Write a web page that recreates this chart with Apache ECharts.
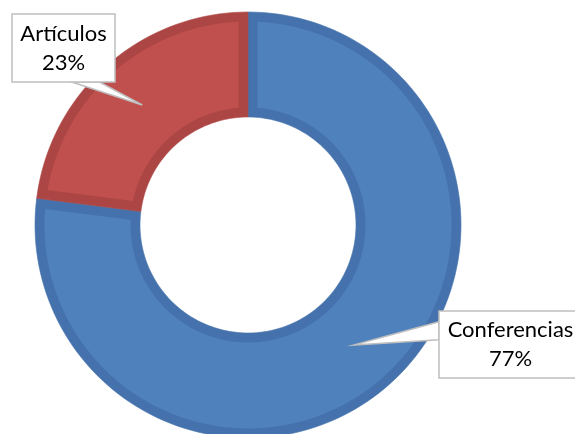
<!DOCTYPE html>
<html><head><meta charset="utf-8">
<script src="https://cdn.jsdelivr.net/npm/echarts@6/dist/echarts.min.js"></script>
<style>html,body{margin:0;padding:0;background:#fff}#c{width:575px;height:434px}</style>
</head><body><div id="c"></div>
<script>
// ---- data ----
const categories = ['Conferencias', 'Artículos'];
const values = [77, 23];

// ---- styling / layout ----
const fillColors = ['#4F81BD', '#C0504D'];
const edgeColors = ['#4572AC', '#AC4644'];
// label boxes: [left, top, width, height]
const boxRects = [[439, 311, 144, 67], [12, 14, 103, 68]];
// wedge base, as two points along a box edge: [edge, from, to] (fractions)
const wedgeBases = [['left', 0.16, 0.43], ['bottom', 0.58, 0.85]];
const R_OUT = 213, R_IN = 108, BAND = 9.5, TIP_R = 160;

const total = values.reduce((a, b) => a + b, 0);
const starts = [];
let acc = 0;
values.forEach(v => { starts.push(acc); acc += v; });
const seriesData = values.map((v, i) => [starts[i], starts[i] + v, i]);

function toVal(rad) { return rad / (2 * Math.PI) * total; }
function arcPts(api, r, a0, a1) {
  const n = Math.max(4, Math.ceil(Math.abs(a1 - a0) / total * 180));
  const pts = [];
  for (let k = 0; k <= n; k++) pts.push(api.coord([r, a0 + (a1 - a0) * k / n]));
  return pts;
}

const chart = echarts.init(document.getElementById('c'), null, {renderer: 'canvas'});
chart.setOption({
  animation: false,
  polar: {center: [248, 225], radius: R_OUT},
  angleAxis: {type: 'value', min: 0, max: total, startAngle: 90, clockwise: true, show: false},
  radiusAxis: {type: 'value', min: 0, max: R_OUT, show: false},
  series: [{
    type: 'custom',
    coordinateSystem: 'polar',
    clip: false,
    silent: true,
    data: seriesData,
    renderItem: function (params, api) {
      const a0 = api.value(0), a1 = api.value(1), i = api.value(2);
      // dark full slice
      const dark = arcPts(api, R_OUT, a0, a1).concat(arcPts(api, R_IN, a1, a0));
      // inset light slice (constant-width band)
      const dOut = toVal(Math.asin(BAND / (R_OUT - BAND)));
      const dIn = toVal(Math.asin(BAND / (R_IN + BAND)));
      const light = arcPts(api, R_OUT - BAND, a0 + dOut, a1 - dOut)
        .concat(arcPts(api, R_IN + BAND, a1 - dIn, a0 + dIn));
      // callout
      const tip = api.coord([TIP_R, (a0 + a1) / 2]);
      const b = boxRects[i], wb = wedgeBases[i];
      let p1, p2;
      if (wb[0] === 'left') { p1 = [b[0], b[1] + b[3] * wb[1]]; p2 = [b[0], b[1] + b[3] * wb[2]]; }
      else { p1 = [b[0] + b[2] * wb[1], b[1] + b[3]]; p2 = [b[0] + b[2] * wb[2], b[1] + b[3]]; }
      const pct = Math.round(values[i] / total * 100);
      return {
        type: 'group',
        children: [
          {type: 'polygon', z2: 1, shape: {points: dark}, style: {fill: edgeColors[i], stroke: edgeColors[i], lineWidth: 0.6}},
          {type: 'polygon', z2: 2, shape: {points: light}, style: {fill: fillColors[i]}},
          {type: 'polygon', z2: 10, shape: {points: [p1, tip, p2]}, style: {fill: '#fff', stroke: '#BFBFBF', lineWidth: 1.5, lineJoin: 'miter'}},
          {type: 'rect', z2: 11, shape: {x: b[0], y: b[1], width: b[2], height: b[3]}, style: {fill: '#fff', stroke: '#BFBFBF', lineWidth: 1.5}},
          {type: 'text', z2: 12, style: {
            text: categories[i] + '\n' + pct + '%',
            x: b[0] + b[2] / 2 + (i === 0 ? -0.5 : 0), y: b[1] + b[3] / 2,
            align: 'center', verticalAlign: 'middle',
            fontFamily: 'Lato', fontSize: 22, lineHeight: 29, fill: '#000'
          }}
        ]
      };
    }
  }]
});
</script>
</body></html>
